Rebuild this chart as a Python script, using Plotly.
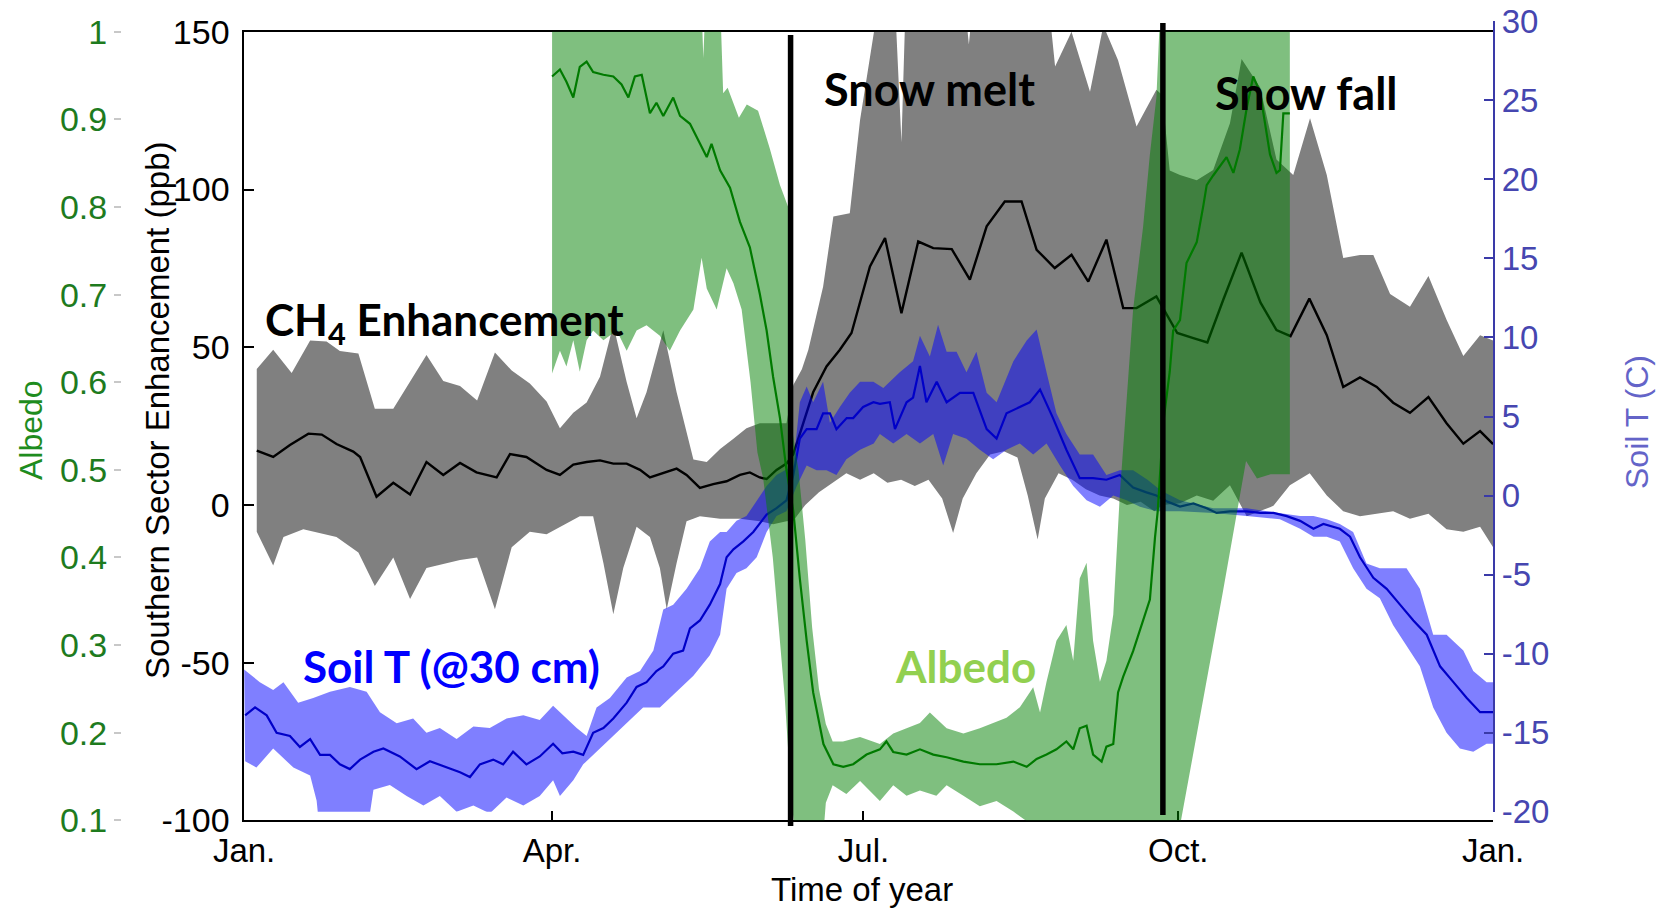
import plotly.graph_objects as go

# ---------------- data (day of year) ----------------
month_days = [0, 90, 181, 273, 365]
month_labels = ["Jan.", "Apr.", "Jul.", "Oct.", "Jan."]

ch4_ticks = [-100, -50, 0, 50, 100, 150]
ch4_tick_labels = ["-100", "-50", "0", "50", "100", "150"]
albedo_ticks = [0.1, 0.2, 0.3, 0.4, 0.5, 0.6, 0.7, 0.8, 0.9, 1.0]
albedo_tick_labels = ["0.1", "0.2", "0.3", "0.4", "0.5", "0.6", "0.7", "0.8", "0.9", "1"]
soil_ticks = [-20, -15, -10, -5, 0, 5, 10, 15, 20, 25, 30]
soil_tick_labels = ["-20", "-15", "-10", "-5", "0", "5", "10", "15", "20", "25", "30"]

snow_melt_day = 159.7
snow_fall_day = 268.5

# CH4 enhancement mean
ch4_days = [3.7, 8.5, 13.4, 18.8, 22.7, 27.0, 31.9, 33.9, 38.7, 43.6, 48.5, 53.3, 58.2, 63.1,
            67.9, 73.8, 77.7, 82.5, 88.4, 92.3, 96.2, 100.1, 104.0, 107.9, 111.8, 115.7, 118.6,
            121.5, 126.4, 129.3, 133.2, 137.1, 141.0, 144.9, 147.8, 150.7, 152.7, 155.6, 158.5,
            160.5, 162.4, 166.3, 170.2, 174.1, 177.5, 180.0, 182.9, 187.3, 192.1, 197.0, 201.4,
            206.8, 212.1, 217.0, 222.3, 227.2, 231.6, 236.9, 241.8, 246.7, 252.0, 256.9, 260.8,
            266.6, 272.7, 277.4, 281.5, 286.2, 291.5, 297.0, 301.7, 305.8, 311.3, 316.4, 321.2,
            326.1, 331.0, 335.8, 340.7, 346.1, 351.4, 356.3, 361.2, 365.0]
ch4_mean = [17.2, 15.2, 19.0, 22.6, 22.3, 19.3, 16.9, 15.2, 2.6, 7.0, 3.3, 13.6, 9.5, 13.3,
            10.3, 8.7, 16.1, 15.2, 11.1, 9.5, 12.8, 13.6, 14.1, 13.1, 13.1, 11.1, 8.7,
            9.8, 11.5, 9.5, 5.4, 6.6, 7.5, 9.5, 10.3, 8.7, 8.2, 11.1, 13.1,
            16.1, 22.6, 35.7, 43.9, 49.2, 54.5, 64.0, 75.6, 84.6, 60.8, 83.5, 81.4,
            81.1, 71.4, 88.3, 96.2, 96.2, 80.9, 75.1, 79.3, 70.8, 84.1, 62.4, 62.4,
            66.1, 54.5, 52.9, 51.5, 65.2, 80.0, 64.2, 55.4, 53.5, 65.4, 53.8, 37.4,
            40.4, 37.4, 32.4, 29.2, 34.2, 25.9, 19.4, 23.4, 19.3]

# CH4 band upper edge
ch4_up_days = [3.7, 8.5, 13.9, 19.3, 24.1, 28.0, 33.4, 38.2, 43.6, 53.3, 58.2, 63.1, 68.1, 73.3,
               78.2, 83.5, 88.4, 92.3, 96.2, 100.1, 104.0, 107.9, 111.8, 114.7, 117.6, 122.5,
               126.4, 131.3, 135.2, 139.1, 143.0, 146.8, 150.7, 158.5, 160.5, 163.0, 164.9,
               169.2, 172.2, 177.0, 180.0, 182.9, 184.8, 190.4, 192.1, 193.2, 211.0, 211.8,
               212.6, 235.5, 237.0, 241.8, 247.2, 251.1, 255.4, 260.8, 266.6, 268.3, 270.5,
               273.5, 278.4, 283.2, 288.1, 291.5, 296.9, 301.7, 306.6, 311.5, 316.4, 321.2,
               326.1, 330.0, 334.9, 340.7, 346.1, 351.4, 356.3, 361.2, 365.0]
ch4_upper = [43.1, 49.2, 41.8, 52.1, 51.8, 48.8, 48.0, 30.5, 30.5, 47.5, 39.3, 37.7, 33.1, 48.3,
             42.6, 38.5, 32.8, 24.3, 29.2, 32.5, 40.6, 57.0, 39.0, 27.5, 35.7, 55.4,
             35.7, 14.4, 13.6, 17.7, 21.0, 24.3, 25.9, 25.9, 38.0, 43.0, 49.2,
             69.2, 91.4, 92.5, 122.0, 141.0, 155.0, 155.0, 115.0, 155.0, 155.0, 146.0,
             155.0, 155.0, 139.0, 150.0, 131.0, 152.0, 141.0, 120.0, 131.6, 130.0, 106.0,
             104.6, 102.9, 106.2, 121.0, 141.4, 132.4, 109.5, 104.6, 122.6, 104.6, 78.3,
             79.2, 79.2, 66.9, 62.8, 72.6, 58.7, 47.2, 53.8, 52.1]

# CH4 band lower edge
ch4_lo_days = [3.7, 8.5, 11.5, 17.3, 27.0, 33.4, 38.2, 43.6, 48.5, 53.3, 63.1, 68.1, 73.3, 78.2,
               83.5, 88.4, 92.3, 98.1, 102.0, 105.0, 107.9, 110.8, 114.7, 118.6, 121.5, 123.5,
               126.4, 129.3, 133.2, 139.1, 144.9, 150.7, 154.6, 158.5, 160.5, 164.0, 168.0,
               172.0, 176.0, 180.0, 184.0, 188.0, 192.0, 196.0, 200.0, 204.0, 207.2, 210.0,
               214.0, 218.0, 222.0, 226.0, 229.0, 231.9, 234.0, 238.0, 242.0, 246.0, 250.0,
               254.0, 258.0, 262.0, 266.0, 268.5, 273.5, 278.4, 283.2, 288.1, 293.0, 296.9,
               300.8, 305.6, 311.4, 316.4, 321.2, 326.1, 331.0, 335.8, 340.7, 346.1, 351.4,
               356.3, 361.2, 365.0]
ch4_lower = [-8.5, -19.2, -10.2, -7.7, -10.2, -15.1, -25.7, -16.7, -29.8, -20.0, -17.5, -16.7, -33.1, -13.4,
             -8.5, -9.3, -6.9, -3.6, -3.6, -18.4, -34.7, -20.0, -6.9, -10.2, -20.0, -33.1,
             -18.4, -5.2, -3.6, -4.4, -4.4, -5.2, -6.1, -5.2, -5.0, 0.0, 4.0,
             7.0, 10.0, 8.0, 10.0, 7.0, 8.0, 6.0, 8.0, 2.0, -8.9, 2.0,
             10.0, 16.0, 17.0, 15.0, 3.0, -11.0, 2.0, 10.0, 8.0, 5.0, 3.0,
             2.0, 0.0, 1.0, -2.0, 0.0, 0.5, 3.0, 1.3, 6.2, -3.6, -2.0,
             -0.3, 6.2, 10.0, 3.0, -2.0, -3.6, -2.8, -2.0, -4.4, -2.8, -7.7,
             -8.5, -6.9, -13.4]

# Soil temperature (@30 cm) mean
soil_days = [0.3, 3.2, 6.6, 9.5, 13.4, 16.3, 19.3, 22.2, 25.1, 28.0, 30.9, 33.9, 37.8, 40.7,
             45.5, 50.4, 54.3, 59.2, 63.1, 66.0, 68.9, 72.8, 75.7, 78.6, 82.5, 86.4, 90.3,
             93.0, 96.2, 99.1, 102.0, 105.0, 107.9, 111.8, 114.7, 117.6, 120.5, 122.5, 125.4,
             128.3, 130.3, 133.2, 136.1, 139.1, 141.0, 143.0, 145.9, 148.8, 150.7, 152.7,
             155.6, 158.5, 160.5, 162.4, 164.4, 167.3, 169.2, 171.2, 173.1, 176.1, 178.0,
             180.9, 183.9, 185.8, 188.7, 190.2, 193.6, 195.5, 197.5, 199.4, 202.4, 205.3,
             209.2, 213.1, 217.0, 219.9, 222.8, 226.7, 229.6, 232.6, 236.4, 240.3, 244.2,
             248.1, 252.0, 255.9, 259.8, 263.7, 266.6, 270.0, 273.5, 277.4, 281.3, 284.2,
             288.1, 293.0, 296.9, 300.8, 304.7, 308.6, 312.5, 315.4, 320.2, 323.2, 326.1,
             330.0, 333.9, 337.8, 341.7, 345.6, 349.5, 353.4, 357.3, 361.2, 365.0]
soil_mean = [-13.9, -13.4, -13.9, -15.0, -15.2, -15.9, -15.4, -16.4, -16.4, -17.0, -17.3, -16.7, -16.2, -16.0,
             -16.5, -17.3, -16.8, -17.2, -17.5, -17.8, -17.0, -16.7, -17.0, -16.2, -17.0, -16.5, -15.7,
             -16.3, -16.2, -16.4, -15.0, -14.7, -14.1, -13.1, -12.1, -11.8, -11.1, -10.8, -10.0,
             -9.8, -8.4, -7.9, -6.9, -5.6, -3.9, -3.4, -2.9, -2.3, -1.8, -1.2,
             -0.8, -0.3, 1.3, 3.6, 4.2, 4.2, 5.2, 5.2, 4.2, 4.9, 4.9,
             5.6, 5.9, 5.8, 5.9, 4.2, 5.9, 6.2, 8.2, 5.9, 7.2, 5.9,
             6.5, 6.5, 4.2, 3.6, 5.2, 5.6, 5.9, 6.7, 4.9, 2.9, 1.1,
             1.1, 1.0, 1.3, 0.5, 0.2, 0.0, -0.4, -0.7, -0.5, -0.8, -1.1,
             -1.0, -1.0, -1.1, -1.1, -1.3, -1.6, -2.1, -1.8, -2.1, -2.6, -3.9,
             -5.2, -5.9, -6.9, -7.9, -8.8, -10.8, -11.8, -12.8, -13.7, -13.7]

# Soil temperature band upper edge
soil_up_days = [0.0, 4.6, 8.5, 11.5, 15.8, 20.2, 25.1, 30.9, 35.8, 39.7, 44.6, 49.4, 53.3, 57.2,
                62.1, 67.0, 71.8, 76.7, 81.6, 86.4, 90.3, 92.3, 97.2, 100.1, 103.0, 106.9,
                111.8, 115.7, 119.6, 122.5, 125.4, 129.3, 133.2, 136.1, 139.1, 141.0, 143.9,
                146.8, 149.8, 152.7, 155.6, 160.5, 162.4, 164.4, 166.3, 169.2, 171.2, 174.1,
                177.0, 180.0, 183.9, 186.8, 191.6, 195.5, 197.5, 200.4, 202.8, 205.3, 208.2,
                211.1, 214.0, 217.0, 219.9, 224.8, 228.7, 231.6, 234.5, 237.4, 240.3, 244.2,
                248.1, 252.0, 255.9, 259.8, 264.0, 268.0, 273.5, 283.2, 293.0, 302.7, 308.6,
                312.5, 316.4, 320.2, 324.1, 328.0, 331.9, 335.8, 339.7, 343.6, 347.5, 351.4,
                356.3, 359.2, 363.1, 365.0]
soil_upper = [-11.0, -11.8, -12.3, -11.8, -13.1, -12.8, -12.4, -12.1, -12.4, -13.7, -14.4, -14.1, -15.0, -14.7,
              -15.4, -14.6, -14.7, -14.1, -13.9, -14.2, -13.3, -13.7, -14.7, -15.2, -13.4, -12.8,
              -11.5, -11.1, -9.8, -7.2, -6.9, -5.9, -4.6, -2.9, -2.3, -2.3, -1.6,
              -1.3, -0.3, 0.6, 1.3, 1.9, 5.9, 6.9, 5.9, 7.2, 4.6, 5.6,
              6.5, 7.2, 7.2, 6.8, 7.8, 8.5, 10.1, 8.8, 10.8, 9.1, 9.1,
              7.8, 9.1, 6.5, 5.9, 8.5, 9.8, 10.5, 7.8, 5.2, 3.9, 2.6,
              2.6, 1.3, 1.6, 1.6, 1.0, 0.3, -0.3, -0.8, -0.8, -1.1, -1.3,
              -1.3, -1.5, -1.8, -2.3, -4.3, -4.6, -4.6, -4.6, -5.9, -8.8, -8.8,
              -9.8, -11.1, -11.8, -11.8]

# Soil temperature band lower edge
soil_lo_days = [0.3, 3.6, 8.5, 14.4, 19.3, 21.2, 22.2, 25.0, 30.0, 35.8, 37.8, 42.6, 47.5, 52.4,
                57.2, 62.1, 67.0, 71.8, 76.7, 81.6, 86.4, 90.3, 92.3, 96.2, 99.1, 102.0, 106.9,
                111.8, 116.6, 121.5, 126.4, 131.3, 136.1, 139.1, 141.0, 143.9, 146.8, 149.8,
                152.7, 155.6, 158.5, 161.5, 164.4, 167.3, 170.2, 173.1, 176.0, 180.0, 184.0,
                185.8, 189.7, 193.6, 197.5, 201.4, 204.3, 207.2, 211.1, 215.0, 218.9, 222.8,
                226.7, 230.6, 234.5, 238.4, 242.3, 246.2, 250.1, 254.0, 257.9, 261.8, 266.6,
                273.5, 283.2, 293.0, 302.7, 308.6, 312.5, 316.4, 320.2, 324.1, 328.0, 331.9,
                335.8, 339.7, 343.6, 347.5, 351.4, 355.3, 359.2, 363.1, 365.0]
soil_lower = [-16.8, -17.2, -16.0, -17.2, -17.7, -19.3, -21.5, -22.0, -22.0, -21.5, -18.6, -18.3, -19.0, -19.6,
              -19.0, -20.0, -19.6, -20.1, -19.1, -19.6, -19.0, -18.0, -19.0, -18.0, -17.0, -16.4, -15.4,
              -14.4, -13.4, -13.4, -12.4, -11.4, -10.1, -8.8, -5.9, -4.9, -4.6, -3.9,
              -2.3, -1.3, -1.0, 0.6, 1.9, 1.6, 1.6, 1.3, 2.3, 2.9, 3.3,
              3.9, 3.3, 3.9, 3.3, 3.9, 1.9, 3.9, 3.6, 2.9, 2.3, 2.9,
              3.3, 2.6, 3.3, 1.9, 0.6, -0.3, -0.7, 0.0, -0.3, -0.7, -1.0,
              -1.0, -1.1, -1.3, -1.5, -2.1, -2.6, -2.6, -2.9, -4.6, -5.9, -6.5,
              -8.2, -9.5, -10.8, -13.4, -15.0, -16.0, -16.2, -15.7, -15.7]

# Albedo mean
alb_days = [90.0, 92.3, 94.2, 96.2, 98.1, 100.1, 102.0, 105.0, 107.9, 110.3, 112.3, 114.2, 116.2,
            118.6, 120.5, 122.5, 125.4, 127.4, 130.3, 133.2, 135.2, 136.6, 139.1, 142.0, 144.9,
            147.8, 150.7, 152.7, 154.6, 156.6, 158.5, 160.5, 162.4, 164.4, 166.3, 169.3, 172.2,
            175.1, 178.0, 181.9, 185.8, 187.7, 189.7, 193.6, 197.5, 201.4, 205.3, 210.2, 215.0,
            219.9, 224.8, 228.7, 231.6, 234.5, 237.4, 240.3, 242.3, 244.2, 246.2, 248.1, 250.6,
            252.0, 254.0, 255.4, 256.9, 259.8, 262.7, 264.7, 266.2, 267.0, 268.6, 270.5, 271.5,
            273.5, 275.4, 278.4, 280.3, 281.3, 283.2, 287.1, 289.1, 291.0, 293.0, 294.0, 294.9,
            296.9, 298.3, 299.8, 301.7, 302.7, 303.7, 305.6]
alb_mean = [0.949, 0.957, 0.943, 0.925, 0.960, 0.966, 0.954, 0.951, 0.949, 0.940, 0.925, 0.949, 0.951,
            0.907, 0.919, 0.904, 0.925, 0.904, 0.895, 0.872, 0.857, 0.872, 0.842, 0.822, 0.783,
            0.754, 0.701, 0.659, 0.606, 0.559, 0.500, 0.453, 0.376, 0.305, 0.246, 0.187, 0.164,
            0.161, 0.164, 0.175, 0.181, 0.190, 0.178, 0.175, 0.181, 0.175, 0.172, 0.167, 0.164,
            0.164, 0.167, 0.161, 0.170, 0.175, 0.181, 0.190, 0.181, 0.205, 0.208, 0.175, 0.167,
            0.184, 0.187, 0.246, 0.264, 0.293, 0.329, 0.352, 0.423, 0.453, 0.553, 0.612, 0.659,
            0.671, 0.736, 0.760, 0.801, 0.825, 0.836, 0.857, 0.839, 0.866, 0.913, 0.931, 0.949,
            0.931, 0.895, 0.860, 0.839, 0.842, 0.907, 0.907]

# Albedo band upper edge
alb_up_days = [90.0, 133.5, 134.2, 135.0, 139.0, 140.0, 141.3, 144.6, 146.9, 150.2, 153.6, 156.6,
               159.0, 160.0, 162.0, 164.0, 166.0, 168.0, 170.0, 172.0, 175.0, 180.0, 185.8, 189.7,
               193.6, 197.5, 200.4, 205.3, 210.2, 215.0, 218.9, 222.8, 226.7, 230.6, 232.6, 234.5,
               237.4, 240.3, 242.3, 244.2, 246.2, 248.1, 250.1, 252.0, 254.0, 255.9, 259.8, 262.7,
               264.7, 266.6, 268.0, 305.6]
alb_upper = [1.05, 1.05, 0.97, 1.05, 1.05, 0.93, 0.936, 0.902, 0.917, 0.91, 0.867, 0.825,
             0.80, 0.55, 0.50, 0.42, 0.32, 0.25, 0.21, 0.19, 0.19, 0.195, 0.187, 0.199,
             0.205, 0.211, 0.223, 0.205, 0.199, 0.205, 0.211, 0.217, 0.229, 0.252, 0.223, 0.258,
             0.305, 0.323, 0.282, 0.376, 0.394, 0.305, 0.258, 0.282, 0.335, 0.471, 0.683, 0.777,
             0.860, 0.925, 1.05, 1.05]

# Albedo band lower edge
alb_lo_days = [90.0, 92.3, 94.2, 96.2, 98.1, 100.1, 102.0, 105.0, 106.9, 108.9, 111.8, 114.7, 117.6,
               121.5, 124.4, 127.4, 131.3, 133.7, 135.2, 138.1, 141.0, 143.0, 145.4, 148.0, 150.0,
               151.7, 154.5, 158.0, 160.0, 161.5, 169.0, 170.0, 172.0, 176.0, 180.0, 185.8, 189.7,
               193.6, 197.5, 202.3, 205.3, 210.2, 215.0, 219.9, 224.8, 228.7, 231.0, 270.0, 273.8,
               280.0, 286.0, 292.8, 296.0, 300.0, 305.6]
alb_lower = [0.61, 0.636, 0.618, 0.648, 0.612, 0.648, 0.659, 0.648, 0.653, 0.659, 0.636, 0.659, 0.665,
             0.653, 0.636, 0.659, 0.683, 0.742, 0.707, 0.683, 0.730, 0.713, 0.683, 0.60, 0.52,
             0.49, 0.40, 0.24, 0.12, 0.07, 0.07, 0.12, 0.14, 0.13, 0.145, 0.122, 0.140,
             0.128, 0.134, 0.128, 0.140, 0.128, 0.116, 0.122, 0.110, 0.099, 0.07, 0.07, 0.10,
             0.23, 0.36, 0.51, 0.49, 0.495, 0.495]

# ---------------- layout geometry ----------------
W, H = 1664, 908
x_dom = [244.1 / W, 1493.1 / W]
y_dom = [1 - 820.3 / H, 1 - 31.8 / H]        # CH4 & albedo
y2_dom = [1 - 811.8 / H, 1 - 21.2 / H]       # soil T axis (offset in original)

TICK_FONT = "Liberation Sans, Arial, sans-serif"
ANN_FONT = "Lato, Open Sans, sans-serif"


def band(xu, yu, xl, yl):
    return list(xu) + list(xl)[::-1], list(yu) + list(yl)[::-1]


fig = go.Figure()

bx, by = band(ch4_up_days, ch4_upper, ch4_lo_days, ch4_lower)
fig.add_trace(go.Scatter(x=bx, y=by, fill="toself", fillcolor="#808080", mode="lines",
                         line=dict(width=0), xaxis="x", yaxis="y", hoverinfo="skip"))
fig.add_trace(go.Scatter(x=ch4_days, y=ch4_mean, mode="lines", line=dict(color="black", width=2.4),
                         xaxis="x", yaxis="y"))

bx, by = band(soil_up_days, soil_upper, soil_lo_days, soil_lower)
fig.add_trace(go.Scatter(x=bx, y=by, fill="toself", fillcolor="rgba(0,0,255,0.5)", mode="lines",
                         line=dict(width=0), xaxis="x2", yaxis="y2", hoverinfo="skip"))
fig.add_trace(go.Scatter(x=soil_days, y=soil_mean, mode="lines", line=dict(color="#0000c8", width=2.2),
                         xaxis="x2", yaxis="y2"))

bx, by = band(alb_up_days, alb_upper, alb_lo_days, alb_lower)
fig.add_trace(go.Scatter(x=bx, y=by, fill="toself", fillcolor="rgba(0,128,0,0.5)", mode="lines",
                         line=dict(width=0), xaxis="x3", yaxis="y3", hoverinfo="skip"))
fig.add_trace(go.Scatter(x=alb_days, y=alb_mean, mode="lines", line=dict(color="#007a00", width=2.2),
                         xaxis="x3", yaxis="y3"))

for d, (ya, yb) in ((snow_melt_day, (1 - 826 / H, 1 - 35 / H)), (snow_fall_day, (1 - 815 / H, 1 - 23 / H))):
    fig.add_shape(type="line", xref="x", yref="paper", x0=d, x1=d, y0=ya, y1=yb,
                  line=dict(color="black", width=5.5), layer="above")

hidden_x = dict(domain=x_dom, range=[0, 365], visible=False, matches="x", showgrid=False, zeroline=False)

fig.update_layout(
    width=W, height=H, autosize=False,
    margin=dict(l=0, r=0, t=0, b=0, pad=0, autoexpand=False),
    paper_bgcolor="white", plot_bgcolor="rgba(0,0,0,0)",
    showlegend=False, hovermode=False,
    xaxis=dict(domain=x_dom, range=[0, 365], anchor="y", tickmode="array", tickvals=month_days,
               ticktext=month_labels, ticks="inside", ticklen=10, tickcolor="black", tickwidth=1.5,
               showline=True, linecolor="black", linewidth=1.5, mirror=True, showgrid=False,
               zeroline=False, automargin=False,
               tickfont=dict(family=TICK_FONT, size=33, color="black")),
    yaxis=dict(domain=y_dom, range=[-100, 150], anchor="x", tickmode="array", tickvals=ch4_ticks,
               ticktext=ch4_tick_labels, ticks="inside", ticklen=10, tickcolor="black", tickwidth=1.5,
               showline=True, linecolor="black", linewidth=1.5, mirror=False, showgrid=False,
               zeroline=False, ticklabelstandoff=6, automargin=False,
               tickfont=dict(family=TICK_FONT, size=34, color="black")),
    xaxis2=dict(hidden_x, anchor="y2"),
    yaxis2=dict(domain=y2_dom, range=[-20, 30], anchor="x2", side="right", tickmode="array",
                tickvals=soil_ticks, ticktext=soil_tick_labels, ticks="inside", ticklen=9,
                tickcolor="#3a3aa8", tickwidth=1.5, showline=True, linecolor="#3a3aa8", linewidth=2,
                showgrid=False, zeroline=False, automargin=False,
                tickfont=dict(family=TICK_FONT, size=33, color="#4646b0")),
    xaxis3=dict(hidden_x, anchor="y3"),
    yaxis3=dict(domain=y_dom, range=[0.1, 1.0], anchor="free", position=121 / W, side="left",
                tickmode="array", tickvals=albedo_ticks, ticktext=albedo_tick_labels,
                ticks="outside", ticklen=7, tickcolor="#c8c8c8", tickwidth=1.5, showline=False,
                showgrid=False, zeroline=False, automargin=False,
                tickfont=dict(family=TICK_FONT, size=34, color="#1e7b1e")),
)

annotations = [
    dict(text="Time of year", x=862 / W, y=1 - 889 / H, font=dict(family=TICK_FONT, size=33, color="black")),
    dict(text="Southern Sector Enhancement (ppb)", x=157 / W, y=1 - 410 / H, textangle=-90,
         font=dict(family=TICK_FONT, size=33, color="black")),
    dict(text="Albedo", x=31 / W, y=1 - 430 / H, textangle=-90,
         font=dict(family=TICK_FONT, size=32, color="#1e8c1e")),
    dict(text="Soil T (C)", x=1637 / W, y=1 - 422 / H, textangle=-90,
         font=dict(family=TICK_FONT, size=32, color="#6464c8")),
    dict(text="<b>CH<sub>4</sub> Enhancement</b>", x=444 / W, y=1 - 322 / H,
         font=dict(family=ANN_FONT, size=44, color="black")),
    dict(text="<b>Snow melt</b>", x=929 / W, y=1 - 89 / H,
         font=dict(family=ANN_FONT, size=45, color="black")),
    dict(text="<b>Snow fall</b>", x=1306 / W, y=1 - 93 / H,
         font=dict(family=ANN_FONT, size=45, color="black")),
    dict(text="<b>Soil T (@30 cm)</b>", x=451 / W, y=1 - 666 / H,
         font=dict(family=ANN_FONT, size=44, color="#0000ff")),
    dict(text="<b>Albedo</b>", x=965 / W, y=1 - 666 / H,
         font=dict(family=ANN_FONT, size=44, color="#92d050")),
]
for a in annotations:
    fig.add_annotation(xref="paper", yref="paper", showarrow=False, xanchor="center", yanchor="middle", **a)

fig.write_html("out.html")
